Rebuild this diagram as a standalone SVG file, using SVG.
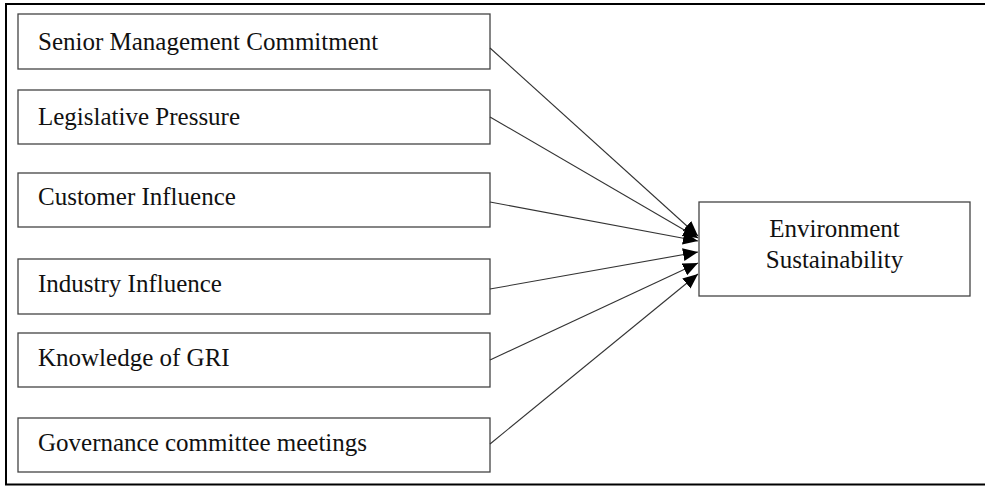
<svg xmlns="http://www.w3.org/2000/svg" width="985" height="487" viewBox="0 0 985 487">
<style>
.box{fill:#fff;stroke:#444;stroke-width:1.3}
.lbl{font-family:"Liberation Serif","Times New Roman",serif;font-size:25px;fill:#111}
.edge{stroke:#333;stroke-width:1.1;fill:none}
</style>
<defs>
<marker id="ah" markerUnits="userSpaceOnUse" markerWidth="17" markerHeight="14" refX="15" refY="6.5" orient="auto">
<path d="M0,0 L15,6.5 L0,13 Z" fill="#000"/>
</marker>
</defs>
<rect x="0" y="0" width="985" height="487" fill="#fff"/>
<path d="M990,4 L6,4 L6,484.5 L990,484.5" fill="none" stroke="#000" stroke-width="2"/>
<g id="n1"><rect class="box" x="18" y="14" width="472" height="55"/><text class="lbl" x="38" y="50">Senior Management Commitment</text></g>
<g id="n2"><rect class="box" x="18" y="90" width="472" height="54"/><text class="lbl" x="38" y="125">Legislative Pressure</text></g>
<g id="n3"><rect class="box" x="18" y="173" width="472" height="54"/><text class="lbl" x="38" y="205">Customer Influence</text></g>
<g id="n4"><rect class="box" x="18" y="259" width="472" height="55"/><text class="lbl" x="38" y="292">Industry Influence</text></g>
<g id="n5"><rect class="box" x="18" y="333" width="472" height="54"/><text class="lbl" x="38" y="366">Knowledge of GRI</text></g>
<g id="n6"><rect class="box" x="18" y="418" width="472" height="54"/><text class="lbl" x="38" y="451">Governance committee meetings</text></g>
<g id="target"><rect class="box" x="699" y="202" width="271" height="94"/><text class="lbl" x="834.5" y="237" text-anchor="middle">Environment</text><text class="lbl" x="834.5" y="268" text-anchor="middle">Sustainability</text></g>
<g id="connectors">
<line class="edge" x1="490" y1="48" x2="698" y2="236" marker-end="url(#ah)"/>
<line class="edge" x1="490" y1="117" x2="698" y2="238" marker-end="url(#ah)"/>
<line class="edge" x1="490" y1="202" x2="698" y2="241" marker-end="url(#ah)"/>
<line class="edge" x1="490" y1="289" x2="698" y2="252" marker-end="url(#ah)"/>
<line class="edge" x1="490" y1="360" x2="698" y2="263" marker-end="url(#ah)"/>
<line class="edge" x1="490" y1="444" x2="698" y2="274" marker-end="url(#ah)"/>
</g>
</svg>
